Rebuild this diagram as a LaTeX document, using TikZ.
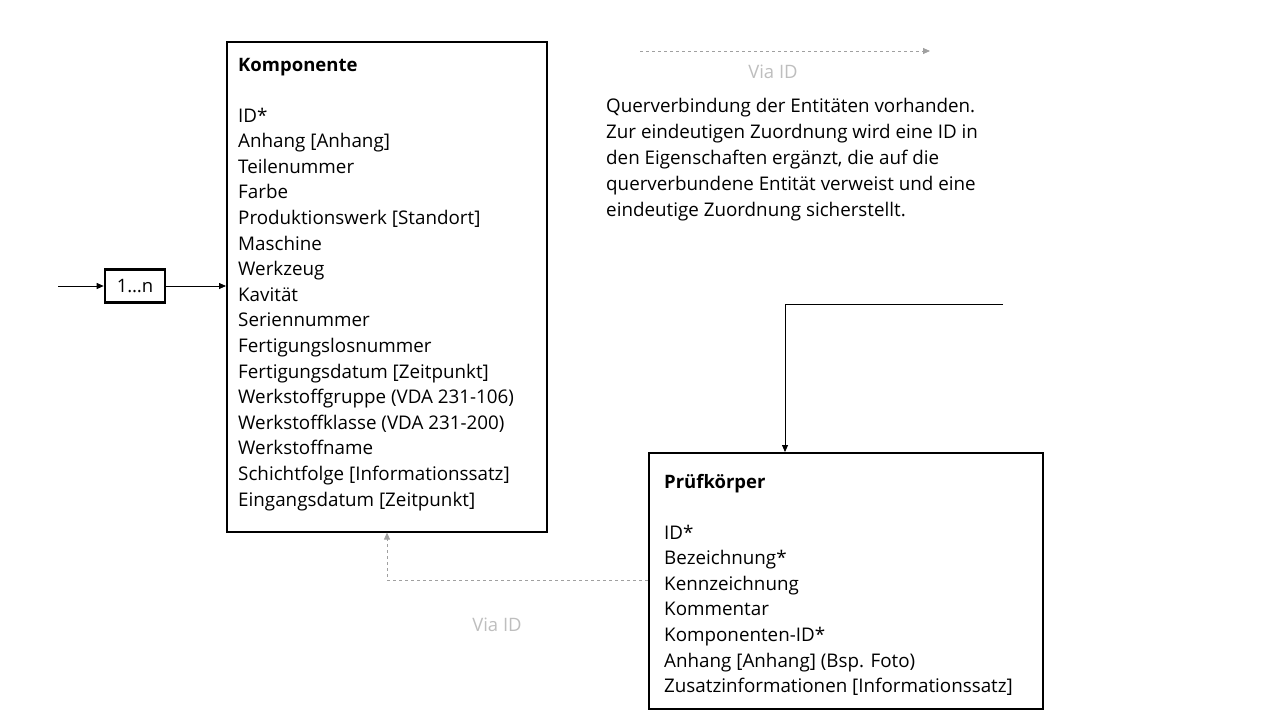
\documentclass[tikz,border=0pt]{standalone}
\usepackage{fontspec}
\setmainfont{Open Sans}
\usetikzlibrary{arrows.meta,positioning}
\definecolor{viagray}{RGB}{160,160,160}
\definecolor{vialabel}{RGB}{190,190,190}
\tikzstyle{entity}=[draw,line width=1.6pt,rectangle,inner sep=0pt]
\tikzstyle{title}=[anchor=base west,inner sep=0pt,font=\fontsize{18.5}{24}\selectfont\bfseries]
\tikzstyle{attr}=[anchor=base west,inner sep=0pt,font=\fontsize{18.8}{24}\selectfont]
\tikzstyle{edge}=[draw,line width=0.8pt,-{Triangle[length=7pt,width=6pt]}]
\tikzstyle{viaedge}=[draw,viagray,line width=0.8pt,dashed,-{Triangle[length=7pt,width=6pt]}]
\tikzstyle{vialbl}=[vialabel,inner sep=0pt,font=\fontsize{18.5}{24}\selectfont]

\begin{document}
\begin{tikzpicture}[x=1pt,y=-1pt]
    \useasboundingbox (0,0) rectangle (1280,720);
    % Entity boxes
    \node[entity,minimum width=320pt,minimum height=490pt,anchor=north west] (komp) at (226,41) {};
    \node[entity,minimum width=394pt,minimum height=256pt,anchor=north west] (pruef) at (648,452) {};
    \node[entity,line width=2.6pt,minimum width=60pt,minimum height=33pt] (card) at (135,286) {\fontsize{18.5}{24}\selectfont 1…n};

    % Komponente attributes
    \node[title] (kompTitle) at (238,71) {Komponente};
    \foreach \txt [count=\i] in {{ID*}, {Anhang [Anhang]}, {Teilenummer}, {Farbe},
        {Produktionswerk [Standort]}, {Maschine}, {Werkzeug}, {Kavität},
        {Seriennummer}, {Fertigungslosnummer}, {Fertigungsdatum [Zeitpunkt]},
        {Werkstoffgruppe (VDA 231-106)}, {Werkstoffklasse (VDA 231-200)},
        {Werkstoffname}, {Schichtfolge [Informationssatz]}, {Eingangsdatum [Zeitpunkt]}}
        \node[attr] (kompAttr\i) at (238,{122+25.6*(\i-1)}) {\txt};

    % Pruefkoerper attributes
    \node[title] (pruefTitle) at (664,488) {Prüfkörper};
    \foreach \txt [count=\i] in {{ID*}, {Bezeichnung*}, {Kennzeichnung}, {Kommentar},
        {Komponenten-ID*}, {Anhang [Anhang] (Bsp. Foto)}, {Zusatzinformationen [Informationssatz]}}
        \node[attr] (pruefAttr\i) at (664,{539+25.6*(\i-1)}) {\txt};

    % Connectors
    \coordinate (inStart) at (58,286);
    \coordinate (topStart) at (1003,304);
    \coordinate (topBend) at (785,304);
    \path[edge] (inStart) -- (card.west);
    \path[edge] (card.east) -- (card.east -| komp.west);
    \path[edge] (topStart) -- (topBend) -- (topBend |- pruef.north);
    \coordinate (viaBend) at (387,580);
    \path[viaedge] (pruef.west |- viaBend) -- (viaBend) -- (viaBend |- komp.south);
    \node[vialbl] (viaLower) at (497,625) {Via ID};

    % Legend
    \coordinate (legStart) at (640,51);
    \coordinate (legEnd) at (930,51);
    \path[viaedge] (legStart) -- (legEnd);
    \node[vialbl] (viaLegend) at (773,72) {Via ID};
    \node[anchor=north west,inner sep=0pt,align=left,font=\fontsize{18.8}{26}\selectfont] (legendText) at (606,98)
        {Querverbindung der Entitäten vorhanden.\\
         Zur eindeutigen Zuordnung wird eine ID in\\
         den Eigenschaften ergänzt, die auf die\\
         querverbundene Entität verweist und eine\\
         eindeutige Zuordnung sicherstellt.};
\end{tikzpicture}
\end{document}
